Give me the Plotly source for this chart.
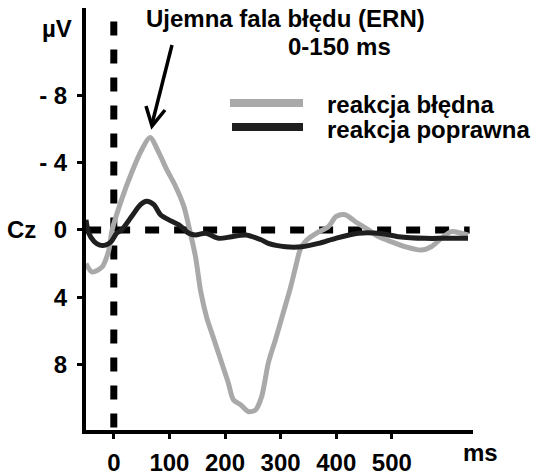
import plotly.graph_objects as go

# ---- data ----
t_err = [-50, -39, -21, -9, -3, 14, 32, 50, 65, 81, 95, 111, 126, 135, 147, 156, 167, 180, 194,
         206, 215, 228, 242, 255, 266, 278, 291, 305, 318, 327, 336, 347, 364, 386, 400, 416,
         434, 458, 476, 499, 524, 553, 571, 589, 607, 625, 637]
v_err = [2.0, 2.5, 2.2, 1.2, 0.0, -1.8, -3.4, -4.75, -5.5, -4.6, -3.6, -2.6, -1.4, -0.2, 1.6, 3.6,
         5.2, 6.5, 7.9, 9.1, 10.1, 10.4, 10.8, 10.7, 9.9, 7.9, 6.5, 4.9, 3.4, 2.2, 1.1, 0.6, 0.2,
         -0.2, -0.8, -0.9, -0.5, 0.0, 0.4, 0.7, 1.0, 1.2, 1.0, 0.5, 0.1, 0.2, 0.3]

t_cor = [-50, -45, -35, -25, -15, -5, 5, 14, 32, 48, 59, 72, 84, 99, 117, 135, 147, 165, 189, 212,
         237, 266, 278, 309, 338, 368, 399, 440, 476, 512, 560, 596, 637]
v_cor = [-0.6, 0.2, 0.7, 0.9, 0.9, 0.7, 0.2, 0.0, -0.8, -1.5, -1.7, -1.5, -0.9, -0.6, -0.3, 0.2,
         0.3, 0.2, 0.5, 0.4, 0.3, 0.6, 0.8, 1.0, 1.0, 0.8, 0.5, 0.2, 0.2, 0.4, 0.5, 0.5, 0.5]

series_names = ["reakcja błędna", "reakcja poprawna"]
x_ticks = [0, 100, 200, 300, 400, 500]
y_ticks = [-8, -4, 0, 4, 8]
y_ticktext = ["- 8", "- 4", "0", "4", "8"]

GRAY = "#a9a9a9"
DARK = "#1f1f1f"
FONT = "Liberation Sans, Arial, sans-serif"

W, H = 535, 475
L, R, T, B = 86, 473, 8, 430


def px(x):
    return (x - L) / (R - L)


def py(y):
    return (B - y) / (B - T)


fig = go.Figure()
fig.add_trace(go.Scatter(x=t_err, y=v_err, mode="lines", name=series_names[0],
                         line=dict(color=GRAY, width=5, shape="spline", smoothing=0.8)))
fig.add_trace(go.Scatter(x=t_cor, y=v_cor, mode="lines", name=series_names[1],
                         line=dict(color=DARK, width=5, shape="spline", smoothing=0.8)))

shapes = [
    dict(type="line", xref="x", yref="y", x0=-48, x1=640, y0=0, y1=0, layer="below",
         line=dict(color="black", width=7, dash="14px,15px")),
    dict(type="line", xref="x", yref="y", x0=0, x1=0, y0=-12.4, y1=11.9, layer="below",
         line=dict(color="black", width=7, dash="14px,14px")),
    dict(type="line", xref="paper", yref="paper", x0=px(172), y0=py(45), x1=px(152), y1=py(124),
         line=dict(color="black", width=3.5)),
    dict(type="path", xref="paper", yref="paper",
         path=f"M {px(146)} {py(106)} L {px(152)} {py(126)} L {px(165)} {py(110)}",
         line=dict(color="black", width=3.5)),
    dict(type="line", xref="paper", yref="paper", x0=px(230), x1=px(303), y0=py(103), y1=py(103),
         line=dict(color=GRAY, width=8)),
    dict(type="line", xref="paper", yref="paper", x0=px(232), x1=px(303), y0=py(127), y1=py(127),
         line=dict(color=DARK, width=8)),
]

bold = dict(family=FONT, size=24, color="black", weight="bold")
annotations = [
    dict(text="Ujemna fala błędu (ERN)", x=px(285), y=py(19), xanchor="center", yanchor="middle"),
    dict(text="0-150 ms", x=px(339), y=py(46), xanchor="center", yanchor="middle"),
    dict(text=series_names[0], x=px(325), y=py(104), xanchor="left", yanchor="middle"),
    dict(text=series_names[1], x=px(325), y=py(129), xanchor="left", yanchor="middle"),
    dict(text="µV", x=px(57), y=py(28), xanchor="center", yanchor="middle"),
    dict(text="Cz", x=px(21), y=py(229), xanchor="center", yanchor="middle"),
    dict(text="ms", x=px(480), y=py(452), xanchor="center", yanchor="middle"),
]
for a in annotations:
    a.update(xref="paper", yref="paper", showarrow=False, font=bold)

fig.update_layout(
    width=W, height=H, autosize=False,
    margin=dict(l=L, r=W - R, t=T, b=H - B, pad=0, autoexpand=False),
    paper_bgcolor="white", plot_bgcolor="white",
    showlegend=False,
    shapes=shapes, annotations=annotations,
    xaxis=dict(range=[-50, 646], showgrid=False, zeroline=False, showline=True, automargin=False,
               linecolor="black", linewidth=4, ticks="outside", ticklen=5, tickwidth=3,
               tickcolor="black", tickvals=x_ticks, tickfont=bold, ticklabelstandoff=3),
    yaxis=dict(range=[11.9, -13.2], showgrid=False, zeroline=False, showline=True, automargin=False,
               linecolor="black", linewidth=4, ticks="outside", ticklen=5, tickwidth=3,
               tickcolor="black", tickvals=y_ticks, ticktext=y_ticktext, tickfont=bold,
               ticklabelstandoff=5),
)

fig.write_html("out.html", config={"displayModeBar": False},
               post_script="document.body.style.margin='0';document.body.style.overflow='hidden';")
